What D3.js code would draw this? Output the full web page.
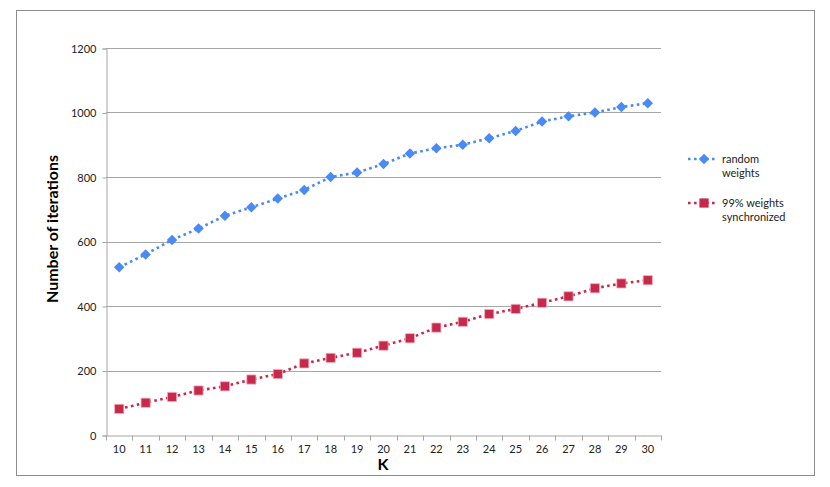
<!DOCTYPE html>
<html>
<head>
<meta charset="utf-8">
<script src="https://cdn.jsdelivr.net/npm/d3@7"></script>
<style>
body { margin: 0; background: #fff; }
svg { display: block; font-family: Lato, "Noto Sans", sans-serif; }
</style>
</head>
<body>
<div id="chart"></div>
<script>
(function() {

const w = 830;
const h = 487;

const kValues = [10, 11, 12, 13, 14, 15, 16, 17, 18, 19, 20, 21, 22, 23, 24, 25, 26, 27, 28, 29, 30];
const randomWeights = [520, 560, 605, 640, 680, 706, 733, 760, 800, 814, 840, 873, 889, 900, 920, 943, 972, 988, 1000, 1017, 1029];
const syncWeights = [81, 100, 118, 138, 151, 172, 189, 222, 239, 255, 277, 300, 333, 351, 375, 391, 410, 430, 455, 470, 480];
const yTicks = [0, 200, 400, 600, 800, 1000, 1200];
const seriesNames = [["random", "weights"], ["99% weights", "synchronized"]];

const blue = "#4a8af4";
const red = "#c8284a";
const gridColour = "#a6a6a6";

const plot = {left: 106, right: 661, top: 48, bottom: 435};

const svg = d3.select("#chart")
    .append("svg")
    .attr("width", w)
    .attr("height", h);

// chart border
svg.append("rect")
    .attr("x", 16.5)
    .attr("y", 10.5)
    .attr("width", 798)
    .attr("height", 465)
    .attr("fill", "none")
    .attr("stroke", "#8c8c8c")
    .attr("stroke-width", 1);

var x = d3.scaleBand()
    .domain(kValues)
    .range([plot.left, plot.right]);

var y = d3.scaleLinear()
    .domain([0, 1200])
    .range([plot.bottom, plot.top]);

// horizontal gridlines
svg.append("g")
    .selectAll("line")
    .data(yTicks.slice(1))
    .enter()
    .append("line")
    .attr("x1", plot.left)
    .attr("x2", plot.right)
    .attr("y1", function(d) { return Math.round(y(d)) + 0.5; })
    .attr("y2", function(d) { return Math.round(y(d)) + 0.5; })
    .attr("stroke", gridColour)
    .attr("stroke-width", 1);

// y axis
var yAxis = svg.append("g")
    .attr("transform", "translate(" + (plot.left + 0.5) + ",0.5)")
    .call(d3.axisLeft(y).tickValues(yTicks).tickFormat(d3.format("d")).tickSize(4).tickPadding(6));

// x axis with ticks at band edges
var xAxis = svg.append("g")
    .attr("transform", "translate(0," + (plot.bottom + 0.5) + ")")
    .call(d3.axisBottom(x).tickSize(0).tickPadding(10));

xAxis.selectAll(".edge")
    .data(d3.range(kValues.length + 1))
    .enter()
    .append("line")
    .attr("class", "edge")
    .attr("x1", function(i) { return Math.round(plot.left + i * x.step()) + 0.5; })
    .attr("x2", function(i) { return Math.round(plot.left + i * x.step()) + 0.5; })
    .attr("y1", 0)
    .attr("y2", 5)
    .attr("stroke", gridColour);

[yAxis, xAxis].forEach(function(ax) {
    ax.select(".domain").attr("stroke", gridColour);
    ax.selectAll(".tick line").attr("stroke", gridColour);
    ax.selectAll(".tick text")
        .attr("fill", "#222")
        .style("font-size", "11px")
        .style("font-family", "Lato, 'Noto Sans', sans-serif");
});

// axis titles
svg.append("text")
    .attr("transform", "translate(58,229) rotate(-90)")
    .attr("text-anchor", "middle")
    .style("font-size", "16px")
    .style("font-weight", "bold")
    .attr("fill", "#000")
    .text("Number of iterations");

svg.append("text")
    .attr("x", 383)
    .attr("y", 470)
    .attr("text-anchor", "middle")
    .style("font-size", "16px")
    .style("font-weight", "bold")
    .attr("fill", "#000")
    .text("K");

var line = d3.line()
    .x(function(d, i) { return x(kValues[i]) + x.bandwidth() / 2; })
    .y(function(d) { return y(d); });

function drawSeries(values, colour, symbolType, size) {
    svg.append("path")
        .datum(values)
        .attr("d", line)
        .attr("fill", "none")
        .attr("stroke", colour)
        .attr("stroke-width", 2.6)
        .attr("stroke-dasharray", "2.6 3.4");

    svg.append("g")
        .selectAll("path")
        .data(values)
        .enter()
        .append("path")
        .attr("transform", function(d, i) {
            return "translate(" + (x(kValues[i]) + x.bandwidth() / 2) + "," + y(d) + ")";
        })
        .attr("d", d3.symbol().type(symbolType).size(size))
        .attr("fill", colour)
        .attr("stroke", symbolType === d3.symbolSquare ? "#f0b4c0" : "none")
        .attr("stroke-width", 0.8);
}

var diamond = {
    draw: function(ctx, size) {
        var r = Math.sqrt(size) / 2;
        ctx.moveTo(0, -r);
        ctx.lineTo(r, 0);
        ctx.lineTo(0, r);
        ctx.lineTo(-r, 0);
        ctx.closePath();
    }
};

drawSeries(randomWeights, blue, diamond, 110);
drawSeries(syncWeights, red, d3.symbolSquare, 85);

// legend
var legend = svg.append("g");
var legendItems = [
    {name: seriesNames[0], colour: blue, symbol: diamond, size: 110, y: 159},
    {name: seriesNames[1], colour: red, symbol: d3.symbolSquare, size: 85, y: 203}
];

legendItems.forEach(function(item) {
    legend.append("line")
        .attr("x1", 688)
        .attr("x2", 716)
        .attr("y1", item.y)
        .attr("y2", item.y)
        .attr("stroke", item.colour)
        .attr("stroke-width", 2.6)
        .attr("stroke-dasharray", "2.6 3.4");
    legend.append("path")
        .attr("transform", "translate(704," + item.y + ")")
        .attr("d", d3.symbol().type(item.symbol).size(item.size))
        .attr("fill", item.colour);
    var t = legend.append("text")
        .attr("x", 722)
        .attr("y", item.y + 4)
        .style("font-size", "11px")
        .attr("fill", "#222");
    item.name.forEach(function(part, i) {
        t.append("tspan")
            .attr("x", 722)
            .attr("dy", i === 0 ? 0 : 14)
            .text(part);
    });
});

})();
</script>
</body>
</html>
